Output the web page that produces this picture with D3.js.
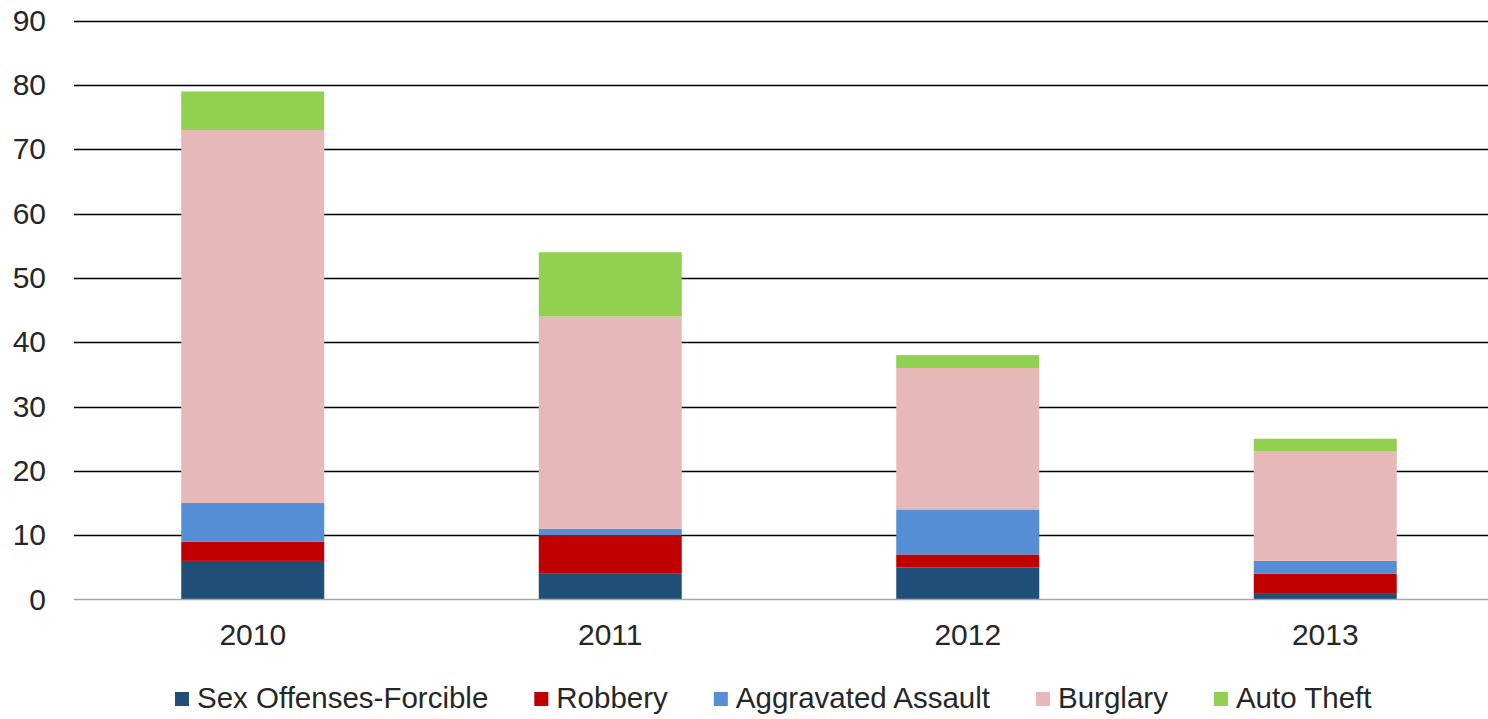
<!DOCTYPE html>
<html><head><meta charset="utf-8">
<script src="https://cdn.jsdelivr.net/npm/d3@7/dist/d3.min.js"></script>
<style>body{margin:0;background:#fff}svg{display:block}text{font-family:"Liberation Sans",Arial,sans-serif;fill:#262626}</style>
</head><body><svg id="c" width="1488" height="719"></svg>
<script>
const years = ["2010","2011","2012","2013"];
const seriesNames = ["Sex Offenses-Forcible","Robbery","Aggravated Assault","Burglary","Auto Theft"];
const sexOffenses = [6,4,5,1];
const robbery = [3,6,2,3];
const aggravatedAssault = [6,1,7,2];
const burglary = [58,33,22,17];
const autoTheft = [6,10,2,2];
const yTicks = [0,10,20,30,40,50,60,70,80,90];
const colors = ["#1F4E79","#C00000","#558ED5","#E6B9B8","#92D050"];

const svg = d3.select("#c");
const seriesVals = [sexOffenses, robbery, aggravatedAssault, burglary, autoTheft];
const table = years.map((y,i)=>{const o={year:y}; seriesNames.forEach((s,j)=>o[s]=seriesVals[j][i]); return o;});
const stack = d3.stack().keys(seriesNames)(table);

const x = d3.scaleBand().domain(years).range([74,1504]).paddingInner(0.6).paddingOuter(0.3);
const y = d3.scaleLinear().domain([0,90]).range([599.5,20.7]);

svg.append("g").selectAll("line").data(yTicks.filter(t=>t>0)).join("line")
  .attr("x1",74).attr("x2",1504).attr("y1",d=>Math.round(y(d))+0.5).attr("y2",d=>Math.round(y(d))+0.5)
  .attr("stroke","#000").attr("stroke-width",1.3);

svg.append("g").selectAll("g").data(stack).join("g").attr("fill",(d,i)=>colors[i])
  .selectAll("rect").data(d=>d).join("rect")
  .attr("x",d=>x(d.data.year)).attr("width",x.bandwidth())
  .attr("y",d=>y(d[1])).attr("height",d=>y(d[0])-y(d[1]));

svg.append("line").attr("x1",74).attr("x2",1504).attr("y1",599.5).attr("y2",599.5)
  .attr("stroke","#A6A6A6").attr("stroke-width",1.5);

const FS = 30;
const yAxis = d3.axisLeft(y).tickValues(yTicks).tickSize(0).tickPadding(0);
const ga = svg.append("g").attr("transform","translate(46,0)").call(yAxis);
ga.select(".domain").remove();
ga.selectAll("text").attr("font-size",FS).attr("fill","#262626").style("font-family","'Liberation Sans',Arial,sans-serif");

const xAxis = d3.axisBottom(x).tickSize(0).tickPadding(0);
const gx = svg.append("g").attr("transform","translate(0,624)").call(xAxis);
gx.select(".domain").remove();
gx.selectAll("text").attr("font-size",FS).attr("fill","#262626").attr("dy","0.71em").style("font-family","'Liberation Sans',Arial,sans-serif");

const lg = svg.append("g");
let cx = 0;
seriesNames.forEach((s,i)=>{
  const g = lg.append("g");
  g.append("rect").attr("x",0).attr("y",-16).attr("width",14).attr("height",14).attr("fill",colors[i]);
  const t = g.append("text").attr("x",22).attr("y",0).attr("font-size",29.5).text(s);
  const w = 22 + t.node().getComputedTextLength();
  g.attr("transform",`translate(${cx},0)`);
  cx += w + 46;
});
lg.attr("transform",`translate(${175},708)`);
</script></body></html>
